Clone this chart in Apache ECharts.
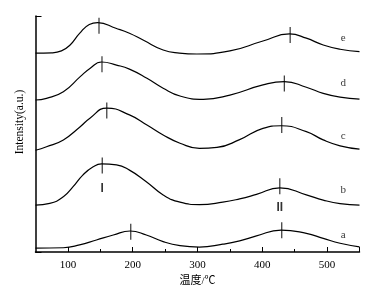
<!DOCTYPE html>
<html>
<head>
<meta charset="utf-8">
<script src="https://cdn.jsdelivr.net/npm/echarts@6/dist/echarts.min.js"></script>
<style>
html,body{margin:0;padding:0;background:#fff}
#chart{width:384px;height:298px}
</style>
</head>
<body>
<div id="chart"></div>
<script>
// 曲线数据（从图上读取，强度为任意单位 0-100）
const tempA = [50, 93, 118, 144, 170, 196, 221, 247, 273, 303, 339, 365, 391, 429, 468, 494, 520, 550]
const valA  = [1.6, 1.8, 3.0, 5.1, 7.2, 8.9, 7.2, 4.4, 2.7, 2.1, 3.3, 4.7, 6.8, 9.3, 7.9, 5.8, 3.7, 2.2]

const tempB = [50, 72, 93, 108, 123, 139, 152, 175, 195, 221, 247, 273, 303, 339, 365, 391, 427, 468, 494, 520, 550]
const valB  = [19.9, 20.6, 23.4, 27.7, 32.6, 36.1, 37.3, 36.9, 34.7, 29.8, 24.2, 21.1, 20.1, 21.1, 22.5, 24.4, 27.2, 24.2, 22.0, 20.5, 19.9]

const tempC = [50, 67, 93, 119, 134, 160, 195, 222, 247, 273, 303, 330, 365, 401, 429, 468, 494, 520, 550]
const valC  = [43.1, 44.6, 47.5, 53.1, 56.7, 61.0, 58.1, 53.8, 49.6, 46.1, 43.9, 44.3, 47.6, 52.4, 53.5, 51.0, 47.5, 45.0, 43.6]

const tempD = [50, 67, 93, 119, 134, 152, 175, 195, 222, 247, 273, 309, 350, 401, 434, 468, 494, 520, 550]
const valD  = [64.4, 65.1, 67.9, 74.3, 77.8, 80.5, 79.2, 77.5, 73.6, 69.4, 66.1, 64.7, 66.5, 70.8, 72.2, 69.8, 67.2, 65.6, 64.8]

const tempE = [50, 75, 90, 103, 118, 133, 146, 174, 195, 216, 247, 272, 299, 350, 401, 442, 468, 494, 520, 550]
const valE  = [84.3, 84.4, 85.2, 87.6, 92.6, 96.4, 97.2, 94.8, 92.7, 89.8, 85.6, 84.3, 83.9, 85.2, 89.4, 92.4, 90.6, 87.7, 85.9, 84.9]

// 峰位标记
const peakTemp = [197, 153, 160, 152.6, 148, 430, 427, 430, 434, 443]
const peakVal  = [8.6, 36.7, 60.0, 79.6, 95.9, 9.2, 27.9, 53.8, 71.4, 91.9]

// 曲线名称
const curveNames = ['a', 'b', 'c', 'd', 'e']
const nameTemp = 525
const nameVal  = [7.2, 26.3, 48.9, 71.7, 90.6]

// 峰编号
const romanText = ['I', 'II']
const romanTemp = [153, 427]
const romanVal  = [26.7, 18.6]

const majorTicks = [100, 200, 300, 400, 500, 550]
const minorTicks = [150, 250, 350, 450]
const tickLabels = [100, 200, 300, 400, 500]

const temps = [tempA, tempB, tempC, tempD, tempE]
const vals = [valA, valB, valC, valD, valE]

const serif = 'Liberation Serif'

const chart = echarts.init(document.getElementById('chart'))

const lineSeries = curveNames.map((n, i) => ({
  name: n,
  type: 'line',
  smooth: 0.5,
  symbol: 'none',
  xAxisIndex: 0,
  lineStyle: { color: '#000', width: 1.2 },
  data: temps[i].map((t, j) => [t, vals[i][j]])
}))

const option = {
  animation: false,
  backgroundColor: '#fff',
  grid: { left: 35.5, right: 24.5, top: 16, bottom: 46 },
  xAxis: [
    {
      type: 'value',
      min: 50,
      max: 550,
      name: '温度/℃',
      nameLocation: 'middle',
      nameGap: 22,
      nameTextStyle: { color: '#000', fontSize: 11, fontFamily: serif + ', Noto Sans CJK SC' },
      splitLine: { show: false },
      axisLine: { onZero: false, lineStyle: { color: '#000', width: 1.5 } },
      axisTick: { inside: true, length: 5, customValues: majorTicks, lineStyle: { color: '#000' } },
      axisLabel: { customValues: tickLabels, margin: 8, color: '#000', fontSize: 11, fontFamily: serif }
    },
    {
      type: 'value',
      min: 50,
      max: 550,
      position: 'bottom',
      splitLine: { show: false },
      axisLine: { show: false, onZero: false },
      axisTick: { inside: true, length: 3, customValues: minorTicks, lineStyle: { color: '#000' } },
      axisLabel: { show: false }
    }
  ],
  yAxis: {
    type: 'value',
    min: 0,
    max: 100,
    interval: 100,
    name: 'Intensity(a.u.)',
    nameLocation: 'middle',
    nameGap: 10,
    nameTextStyle: { color: '#000', fontSize: 11.5, fontFamily: serif, padding: [0, 0, 0, 24] },
    splitLine: { show: false },
    axisLine: { lineStyle: { color: '#000', width: 1.5 } },
    axisTick: { inside: true, length: 6, lineStyle: { color: '#000' } },
    axisLabel: { show: false }
  },
  series: [
    ...lineSeries,
    {
      type: 'scatter',
      symbol: 'rect',
      symbolSize: [1.2, 16],
      itemStyle: { color: '#000' },
      data: peakTemp.map((t, i) => [t, peakVal[i]])
    },
    {
      type: 'scatter',
      symbolSize: 0,
      label: { show: true, position: 'inside', formatter: '{b}', color: '#000', fontSize: 11, fontFamily: serif },
      data: curveNames.map((n, i) => ({ name: n, value: [nameTemp, nameVal[i]] }))
    },
    {
      type: 'scatter',
      symbolSize: 0,
      label: { show: true, position: 'inside', formatter: '{b}', color: '#000', fontSize: 12, fontWeight: 'bold', fontFamily: 'Liberation Sans' },
      data: romanText.map((n, i) => ({ name: n, value: [romanTemp[i], romanVal[i]] }))
    }
  ]
}

chart.setOption(option)
</script>
</body>
</html>
